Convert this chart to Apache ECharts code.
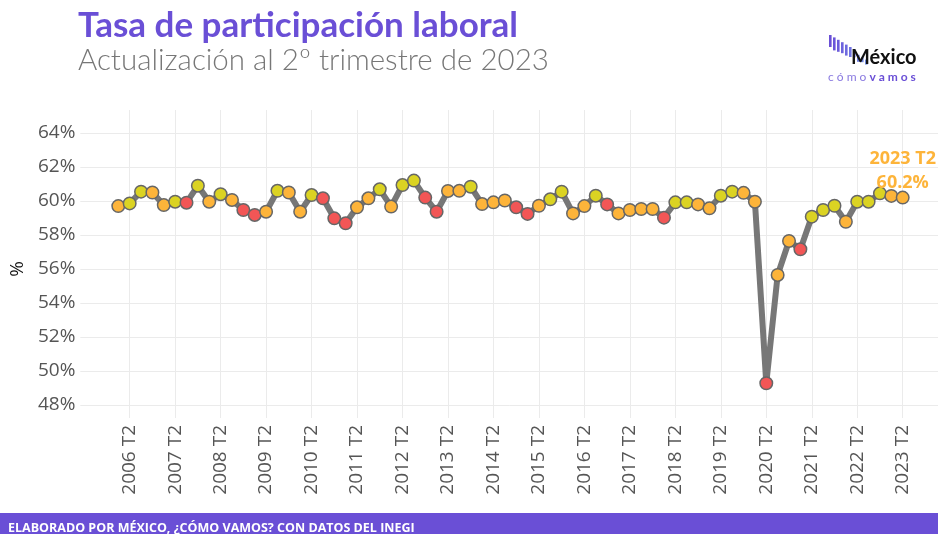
<!DOCTYPE html>
<html>
<head>
<meta charset="utf-8">
<title>Tasa de participación laboral</title>
<script src="https://cdn.jsdelivr.net/npm/echarts@6/dist/echarts.min.js"></script>
<style>
  html, body { margin: 0; padding: 0; background: #fff; }
  #main { width: 938px; height: 534px; }
</style>
</head>
<body>
<div id="main"></div>
<script>
// trimestres desde 2006 T1 hasta 2023 T2
var firstYear = 2006;
var quarters = [];
for (var y = firstYear; y <= 2023; y++) {
  for (var q = 1; q <= 4; q++) {
    if (y === 2023 && q > 2) break;
    quarters.push(y + ' T' + q);
  }
}

// tasa de participación (%)
var tasa = [
  59.70, 59.86, 60.55, 60.50, 59.76, 59.96, 59.90, 60.90, 59.96, 60.40,
  60.06, 59.47, 59.18, 59.37, 60.60, 60.50, 59.37, 60.35, 60.16, 58.98,
  58.69, 59.63, 60.16, 60.69, 59.67, 60.94, 61.20, 60.20, 59.37, 60.59,
  60.60, 60.84, 59.82, 59.92, 60.03, 59.63, 59.24, 59.72, 60.10, 60.55,
  59.27, 59.70, 60.31, 59.80, 59.27, 59.47, 59.53, 59.53, 59.02, 59.92,
  59.92, 59.80, 59.57, 60.31, 60.55, 60.48, 59.96, 49.28, 55.65, 57.65,
  57.16, 59.08, 59.47, 59.72, 58.78, 59.96, 59.96, 60.45, 60.30, 60.20
];

// semáforo de cada punto: r = rojo, o = naranja, y = amarillo
var semaforo = [
  'o','y','y','o','o','y','r','y','o','y',
  'o','r','r','o','y','o','o','y','r','r',
  'r','o','o','y','o','y','y','r','r','o',
  'o','y','o','o','o','r','r','o','y','y',
  'o','o','y','r','o','o','o','o','r','y',
  'y','o','o','y','y','o','o','r','o','o',
  'r','y','y','y','o','y','y','y','o','o'
];

var yTicks = [48, 50, 52, 54, 56, 58, 60, 62, 64];

var colores = { r: '#f25656', o: '#fdb43a', y: '#dbd323' };
var naranja = '#fdb43a';
var morado = '#6a4fd6';

var puntos = tasa.map(function (v, i) {
  var item = { value: v, itemStyle: { color: colores[semaforo[i]] } };
  if (i === tasa.length - 1) {
    item.label = {
      show: true,
      position: 'top',
      distance: -4,
      formatter: quarters[i] + '\n' + v.toFixed(1) + '%',
      color: naranja,
      fontWeight: 'bold',
      fontSize: 18,
      lineHeight: 24,
      fontFamily: 'Open Sans'
    };
  }
  return item;
});

// posición de y en píxeles para alinear los dos grids
var yTop = 133, yBottom = 405, H = 534;
var pxPer = (yBottom - yTop) / (yTicks[yTicks.length - 1] - yTicks[0]);
var plotTop = 110, plotBottom = 418;
var yMinB = yTicks[0] - (plotBottom - yBottom) / pxPer;
var yMaxB = yTicks[yTicks.length - 1] + (yTop - plotTop) / pxPer;

var esT2 = function (i) { return i % 4 === 1; };

// logo: barras descendentes
var logo = [];
var barColors = ['#6a4fd6','#6b55d9','#6c5cdb','#6d63dd','#6e6adf','#6f72e1','#7079e3','#7181e5','#7289e7','#7391e9'];
var barH = [12, 13, 12, 11, 11, 10, 8, 7, 5, 5];
for (var k = 0; k < 10; k++) {
  logo.push({
    type: 'rect',
    shape: { x: 829 + k * 4, y: 35 + k * 2.4 + (k > 6 ? 3 : 0), width: 2.6, height: barH[k] },
    style: { fill: barColors[k] }
  });
}

var chart = echarts.init(document.getElementById('main'));
chart.setOption({
  backgroundColor: '#fff',
  animation: false,
  grid: [
    { left: 78, right: 0, top: yTop, bottom: H - yBottom },
    { left: 118.3, right: 35.3, top: plotTop, bottom: H - plotBottom }
  ],
  xAxis: [
    { type: 'value', gridIndex: 0, show: false, min: 0, max: 1 },
    {
      type: 'category',
      gridIndex: 1,
      data: quarters,
      boundaryGap: false,
      axisLine: { show: false },
      axisTick: { show: false },
      axisLabel: {
        interval: function (i) { return esT2(i); },
        rotate: 90,
        margin: 7,
        color: '#555',
        fontSize: 19,
        fontFamily: 'Open Sans'
      },
      splitLine: {
        show: true,
        interval: function (i) { return esT2(i); },
        lineStyle: { color: '#ebebeb', width: 1 }
      }
    }
  ],
  yAxis: [
    {
      type: 'value',
      gridIndex: 0,
      min: 48,
      max: 64,
      interval: 2,
      name: '%',
      nameLocation: 'middle',
      nameGap: 50,
      nameRotate: 90,
      nameTextStyle: { color: '#111', fontSize: 19, fontFamily: 'Open Sans' },
      axisLine: { show: false },
      axisTick: { show: false },
      axisLabel: {
        formatter: '{value}%',
        margin: 5,
        color: '#555',
        fontSize: 19,
        fontFamily: 'Open Sans'
      },
      splitLine: { lineStyle: { color: '#ebebeb', width: 1 } }
    },
    {
      type: 'value',
      gridIndex: 1,
      min: yMinB,
      max: yMaxB,
      show: false
    }
  ],
  series: [
    {
      type: 'line',
      xAxisIndex: 1,
      yAxisIndex: 1,
      data: puntos,
      symbol: 'circle',
      symbolSize: 12.5,
      showAllSymbol: true,
      lineStyle: { color: '#777', width: 6 },
      itemStyle: { borderColor: '#666', borderWidth: 1.5 },
      z: 5
    }
  ],
  graphic: [
    {
      type: 'text', left: 78, top: 8,
      style: { text: 'Tasa de participación laboral', fill: morado, font: 'bold 35px Lato' }
    },
    {
      type: 'text', left: 78, top: 45,
      style: { text: 'Actualización al 2º trimestre de 2023', fill: '#777', font: '300 29.5px Lato' }
    },
    { type: 'group', children: logo },
    {
      type: 'text', left: 851, top: 48,
      style: { text: 'México', fill: '#111', font: 'bold 20px Lato' }
    },
    {
      type: 'text', left: 828, top: 71,
      style: {
        rich: {
          a: { fill: '#8a7ae0', font: '12px Lato' },
          b: { fill: morado, font: 'bold 12px Lato' }
        },
        text: '{a|c ó m o }{b|v a m o s}'
      }
    },
    {
      type: 'rect', left: 0, top: 513,
      shape: { width: 938, height: 21 },
      style: { fill: morado }
    },
    {
      type: 'text', left: 8, top: 522,
      style: { text: 'ELABORADO POR MÉXICO, ¿CÓMO VAMOS? CON DATOS DEL INEGI', fill: '#fff', font: 'bold 12.5px "Open Sans"' }
    }
  ]
});
</script>
</body>
</html>
